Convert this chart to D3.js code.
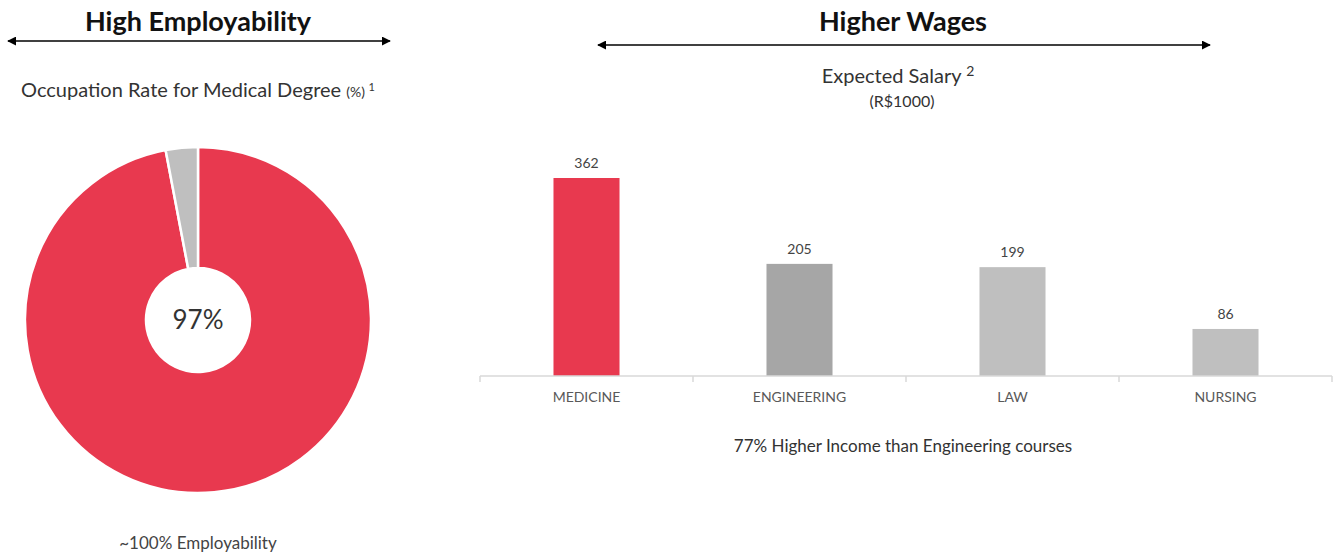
<!DOCTYPE html>
<html>
<head>
<meta charset="utf-8">
<script src="https://cdn.jsdelivr.net/npm/d3@7"></script>
<style>
  body { margin: 0; background: #fff; }
  text { font-family: Lato, 'Open Sans', sans-serif; }
</style>
</head>
<body>
<svg id="chart"></svg>
<script>
// occupation rate (pie)
const occupationLabels = ['Employed', 'Other']
const occupationValues = [97, 3]

// expected salary (bars)
const courses = ['MEDICINE', 'ENGINEERING', 'LAW', 'NURSING']
const salaries = [362, 205, 199, 86]

const width = 1340
const height = 553
const red = '#e8394f'
const barColors = [red, '#a6a6a6', '#bfbfbf', '#bfbfbf']

const svg = d3.select('#chart').attr('width', width).attr('height', height)

const defs = svg.append('defs')
defs.append('marker')
  .attr('id', 'arrow')
  .attr('viewBox', '0 0 10 10')
  .attr('refX', 9)
  .attr('refY', 5)
  .attr('markerWidth', 9)
  .attr('markerHeight', 9)
  .attr('markerUnits', 'userSpaceOnUse')
  .attr('orient', 'auto-start-reverse')
  .append('path')
  .attr('d', 'M0,0 L10,5 L0,10 z')
  .attr('fill', '#000')

// section headers with double arrows
function header (title, cx, x1, x2, y) {
  svg.append('text')
    .attr('x', cx).attr('y', 31)
    .attr('text-anchor', 'middle')
    .attr('font-size', 27).attr('font-weight', 'bold')
    .attr('fill', '#111')
    .text(title)
  svg.append('line')
    .attr('x1', x1).attr('x2', x2)
    .attr('y1', y).attr('y2', y)
    .attr('stroke', '#000').attr('stroke-width', 1.5)
    .attr('marker-start', 'url(#arrow)')
    .attr('marker-end', 'url(#arrow)')
}
header('High Employability', 198, 8, 390, 41)
header('Higher Wages', 903, 598, 1210, 45)

// ---- pie ----
const pieG = svg.append('g').attr('transform', 'translate(198,320)')
const pie = d3.pie().sort(null)
const arc = d3.arc().innerRadius(52).outerRadius(173)

pieG.selectAll('path')
  .data(pie(occupationValues))
  .join('path')
  .attr('d', arc)
  .attr('fill', (d, i) => i === 0 ? red : '#bfbfbf')
  .attr('stroke', '#fff')
  .attr('stroke-width', 2.5)

pieG.append('text')
  .attr('text-anchor', 'middle')
  .attr('dy', '0.35em')
  .attr('font-size', 26)
  .attr('fill', '#333')
  .text(occupationValues[0] + '%')

const sub1 = svg.append('text')
  .attr('x', 198).attr('y', 97)
  .attr('text-anchor', 'middle')
  .attr('font-size', 20).attr('fill', '#333')
sub1.append('tspan').text('Occupation Rate for Medical Degree ')
sub1.append('tspan').attr('font-size', 14).text('(%) ')
sub1.append('tspan').attr('font-size', 11).attr('dy', -6).text('1')

svg.append('text')
  .attr('x', 198).attr('y', 549)
  .attr('text-anchor', 'middle')
  .attr('font-size', 17).attr('fill', '#444')
  .text('~100% Employability')

// ---- bars ----
const baseY = 376
const x = d3.scaleBand().domain(courses).range([480, 1332]).paddingInner(0.69).paddingOuter(0.345)
const y = d3.scaleLinear().domain([0, 362]).range([baseY, 178])

const barG = svg.append('g')
barG.selectAll('rect')
  .data(salaries)
  .join('rect')
  .attr('x', (d, i) => x(courses[i]))
  .attr('y', d => y(d))
  .attr('width', x.bandwidth())
  .attr('height', d => baseY - y(d))
  .attr('fill', (d, i) => barColors[i])

barG.selectAll('.val')
  .data(salaries)
  .join('text')
  .attr('class', 'val')
  .attr('x', (d, i) => x(courses[i]) + x.bandwidth() / 2)
  .attr('y', d => y(d) - 10)
  .attr('text-anchor', 'middle')
  .attr('font-size', 14).attr('fill', '#444')
  .text(d => d)

// axis with boundary ticks
const axisG = svg.append('g').attr('transform', `translate(0,${baseY})`)
axisG.append('line')
  .attr('x1', 480).attr('x2', 1332)
  .attr('stroke', '#d9d9d9').attr('stroke-width', 1.5)
const bounds = d3.range(courses.length + 1).map(i => 480 + i * x.step())
axisG.selectAll('.tk')
  .data(bounds)
  .join('line')
  .attr('class', 'tk')
  .attr('x1', d => d).attr('x2', d => d)
  .attr('y1', 0).attr('y2', 6)
  .attr('stroke', '#d9d9d9').attr('stroke-width', 1.5)
axisG.selectAll('.cat')
  .data(courses)
  .join('text')
  .attr('class', 'cat')
  .attr('x', d => x(d) + x.bandwidth() / 2)
  .attr('y', 26)
  .attr('text-anchor', 'middle')
  .attr('font-size', 14).attr('fill', '#595959')
  .text(d => d)

const sub2 = svg.append('text')
  .attr('x', 898).attr('y', 83)
  .attr('text-anchor', 'middle')
  .attr('font-size', 20).attr('fill', '#333')
sub2.append('tspan').text('Expected Salary ')
sub2.append('tspan').attr('font-size', 14).attr('dy', -7).text('2')
svg.append('text')
  .attr('x', 902).attr('y', 107)
  .attr('text-anchor', 'middle')
  .attr('font-size', 16).attr('fill', '#333')
  .text('(R$1000)')

svg.append('text')
  .attr('x', 903).attr('y', 452)
  .attr('text-anchor', 'middle')
  .attr('font-size', 17).attr('fill', '#333')
  .text('77% Higher Income than Engineering courses')
</script>
</body>
</html>
